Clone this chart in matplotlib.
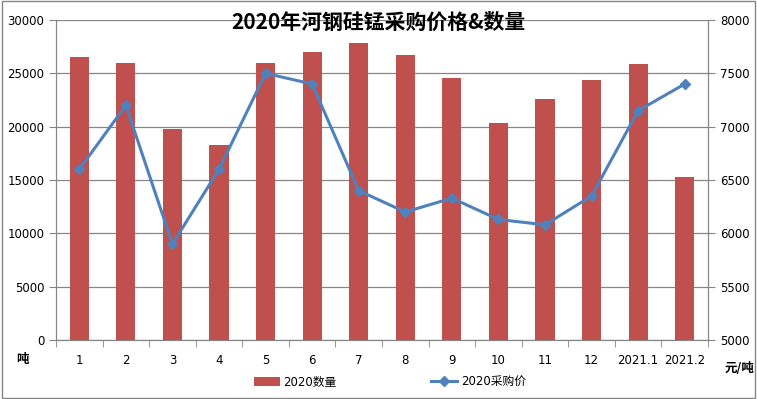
import numpy as np
import matplotlib
matplotlib.use("Agg")
import matplotlib.pyplot as plt
from matplotlib.patches import Rectangle

plt.rcParams['font.family'] = ['DejaVu Sans', 'Noto Sans CJK SC']

months = ["1", "2", "3", "4", "5", "6", "7", "8", "9", "10", "11", "12", "2021.1", "2021.2"]
quantity = [26550, 26000, 19800, 18300, 26000, 27000, 27800, 26720, 24600, 20300, 22600, 24400, 25900, 15300]
price = [6600, 7200, 5900, 6600, 7500, 7400, 6400, 6200, 6330, 6130, 6080, 6350, 7150, 7400]

bar_color = "#C0504D"
line_color = "#4F81BD"
grid_color = "#868686"

fig = plt.figure(figsize=(7.57, 3.99), dpi=100)
ax = fig.add_axes([56 / 757, 59 / 399, 652 / 757, 320 / 399])
ax2 = ax.twinx()

x = np.arange(len(months))
ax.bar(x, quantity, width=0.41, color=bar_color, label="2020数量", zorder=2)
ax2.plot(x, price, color=line_color, lw=2.2, marker="D", ms=5, label="2020采购价", zorder=3)

ax.set_xlim(-0.5, len(months) - 0.5)
ax.set_ylim(0, 30000)
ax.set_yticks(np.arange(0, 30001, 5000))
ax2.set_ylim(5000, 8000)
ax2.set_yticks(np.arange(5000, 8001, 500))
ax.set_xticks(x)
ax.set_xticklabels(months)
ax.set_xticks(np.arange(-0.5, len(months), 1), minor=True)
ax.tick_params(axis="x", which="major", length=0, labelsize=8.5, pad=10)
ax.tick_params(axis="x", which="minor", length=5, color=grid_color)
ax.tick_params(axis="y", length=5, color=grid_color, labelsize=8.5)
ax2.tick_params(axis="y", length=5, color=grid_color, labelsize=8.5)
ax.grid(axis="y", color=grid_color, lw=0.9, zorder=0)
ax.set_axisbelow(True)
for a in (ax, ax2):
    for s in a.spines.values():
        s.set_color(grid_color)
    a.spines["top"].set_visible(False)

fig.text(0.5, 1 - 22 / 399, "2020年河钢硅锰采购价格&数量", ha="center", va="center",
         fontsize=15, fontweight="bold", family=["Noto Sans CJK SC"])
fig.text(22 / 757, 1 - 360 / 399, "吨", ha="center", va="center", fontsize=9,
         fontweight="bold", family=["Noto Sans CJK SC"])
fig.text(740 / 757, 1 - 369 / 399, "元/吨", ha="center", va="center", fontsize=9,
         fontweight="bold", family=["Noto Sans CJK SC"])

h1, l1 = ax.get_legend_handles_labels()
h2, l2 = ax2.get_legend_handles_labels()
fig.legend(h1 + h2, l1 + l2, loc="center", bbox_to_anchor=(0.515, 1 - 382 / 399), ncol=2,
           frameon=False, columnspacing=8, handlelength=2.2, handletextpad=0.3,
           prop={"family": ["DejaVu Sans", "Noto Sans CJK SC"], "size": 8.5})

fig.patches.append(Rectangle((0.002, 0.003), 0.995, 0.994, transform=fig.transFigure,
                             fill=False, edgecolor=grid_color, lw=1))

fig.savefig("out.png", dpi=100)
